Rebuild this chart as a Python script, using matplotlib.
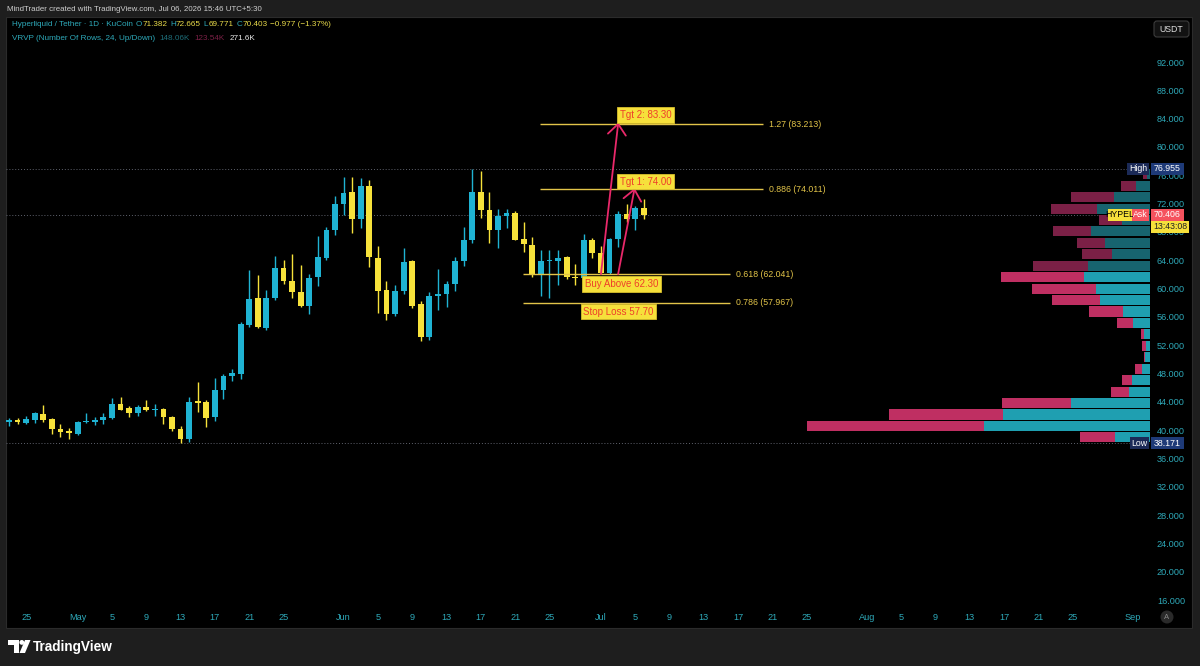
import numpy as np
import pandas as pd
import matplotlib
matplotlib.use('Agg')
import matplotlib.pyplot as plt
from matplotlib.patches import Rectangle, Circle, Polygon, FancyBboxPatch

plt.rcParams['font.family'] = ['Liberation Sans', 'DejaVu Sans']

# ---- daily candles, HYPE/USDT (KuCoin), from 23 Apr 2026 ----
start_date = '2026-04-23'
opens = [41.1, 41.4, 41.0, 41.4, 42.3, 41.6, 40.1, 39.95, 39.5, 41.1,
         41.2, 41.4, 41.7, 43.7, 43.1, 42.4, 43.2, 42.9, 42.95, 41.9,
         40.2, 38.7, 44.1, 44.0, 41.8, 45.7, 47.7, 47.9, 54.9, 58.6,
         54.4, 58.6, 62.9, 61.1, 59.55, 57.6, 61.6, 64.35, 68.3, 72.0,
         73.6, 69.8, 74.5, 64.35, 59.8, 56.4, 59.7, 63.9, 57.8, 53.1,
         58.9, 59.2, 60.6, 63.9, 66.8, 73.6, 71.1, 68.3, 70.25, 70.7,
         66.95, 66.2, 62.05, 63.9, 63.85, 64.4, 61.7, 61.45, 66.85, 65.0,
         62.25, 66.95, 70.6, 69.8, 71.382]
highs = [41.7, 41.7, 42.0, 42.6, 43.5, 41.7, 40.8, 40.3, 41.3, 42.4,
         41.8, 42.4, 44.5, 44.7, 43.4, 43.5, 44.3, 43.7, 43.1, 42.0,
         40.6, 44.7, 46.8, 44.3, 47.3, 48.0, 48.7, 55.3, 62.6, 61.9,
         59.8, 64.6, 64.0, 64.9, 63.3, 62.1, 67.4, 68.75, 73.1, 75.7,
         75.7, 75.6, 75.4, 66.0, 61.1, 60.5, 65.7, 64.0, 58.3, 59.5,
         62.7, 61.0, 64.4, 68.75, 76.955, 76.6, 73.7, 71.2, 71.3, 71.0,
         69.4, 67.3, 65.4, 65.4, 65.4, 64.6, 63.5, 67.7, 67.1, 66.0,
         67.2, 71.0, 72.0, 71.7, 72.665]
lows = [40.6, 40.8, 40.8, 41.0, 41.2, 39.5, 39.1, 38.8, 39.3, 40.95,
        40.7, 40.9, 41.6, 42.8, 41.8, 42.0, 42.7, 42.0, 40.8, 39.9,
        38.171, 38.3, 42.6, 40.4, 41.3, 44.4, 46.9, 47.2, 54.6, 54.4,
        54.2, 58.4, 60.7, 58.6, 57.4, 56.4, 60.4, 64.1, 67.6, 70.4,
        67.8, 68.5, 63.0, 56.6, 55.6, 56.1, 59.3, 57.3, 52.6, 52.8,
        56.9, 57.4, 59.7, 63.2, 66.4, 69.9, 66.5, 65.7, 68.5, 66.8,
        65.2, 61.7, 59.0, 58.6, 60.5, 61.4, 60.5, 61.2, 64.3, 62.0,
        62.0, 65.9, 69.4, 68.3, 69.771]
closes = [41.4, 41.1, 41.6, 42.4, 41.5, 40.1, 39.8, 39.65, 41.1, 41.2,
          41.5, 41.8, 43.7, 42.9, 42.4, 43.2, 42.8, 43.0, 41.85, 40.1,
          38.7, 44.0, 43.9, 41.7, 45.7, 47.7, 48.1, 55.0, 58.5, 54.5,
          58.7, 62.9, 61.0, 59.5, 57.6, 61.45, 64.4, 68.3, 72.0, 73.5,
          69.8, 74.5, 64.4, 59.7, 56.4, 59.7, 63.8, 57.6, 53.2, 58.95,
          59.2, 60.6, 63.9, 66.85, 73.6, 71.1, 68.2, 70.25, 70.7, 66.85,
          66.3, 61.9, 63.9, 64.0, 64.3, 61.6, 61.45, 66.85, 65.0, 62.2,
          66.95, 70.6, 69.8, 71.35, 70.403]
last_price = 70.406

# ---- visible range volume profile, 24 rows, in K ----
profile_low = 38.171
profile_high = 76.955
vol_up = [5.0, 23.5, 20.9, 11.2, 3.0, 2.6, 1.1, 0.7, 0.6, 0.9, 2.4, 3.8,
          7.1, 7.7, 9.4, 8.8, 5.4, 6.4, 8.4, 4.0, 7.5, 5.1, 2.0, 0.4]
vol_down = [5.0, 25.2, 16.2, 9.8, 2.6, 1.4, 1.0, 0.15, 0.6, 0.4, 2.3, 4.8,
            6.8, 9.1, 11.7, 7.8, 4.3, 4.0, 5.3, 3.3, 6.6, 6.1, 2.1, 0.6]
value_area_high = 62.41

# ---- fib extension levels ----
fib_ratios = ['1.27', '0.886', '0.618', '0.786']
fib_prices = [83.213, 74.011, 62.041, 57.967]
fib_from = [61.9, 61.9, 59.9, 59.9]
fib_to = [87.9, 87.9, 84.0, 84.0]

UP = '#1fb3d3'
DOWN = '#f7e23b'
TEAL_TXT = '#2ea9b9'
FIB = '#e2c449'
ARROW = '#e9286a'
VAL = '#e8da4a'

W, H = 1200, 666
fig = plt.figure(figsize=(W / 100, H / 100), dpi=100, facecolor='#1e1e1e')

# background layer in pixel coords
bg = fig.add_axes([0, 0, 1, 1], zorder=0)
bg.set_xlim(0, W)
bg.set_ylim(H, 0)
bg.axis('off')
bg.add_patch(Rectangle((6, 17), 1186, 611, fc='#000000', ec='#2b2b2b', lw=0.8))

ax = fig.add_axes([6 / W, 1 - 607 / H, 1144 / W, 585 / H], zorder=1)
ax.set_facecolor('none')
ax.set_xlim(-0.35, 133.0)
ax.set_ylim(15.02, 97.65)
for s in ax.spines.values():
    s.set_visible(False)

# candles
n = len(opens)
for i in range(n):
    o, h, l, c = opens[i], highs[i], lows[i], closes[i]
    col = UP if c >= o else DOWN
    ax.vlines(i, l, h, color=col, lw=1.0, zorder=3)
    ax.bar(i, max(abs(c - o), 0.15), bottom=min(o, c), width=0.68,
           color=col, zorder=3, linewidth=0)

# dotted reference lines
for p in (profile_high, profile_low, last_price):
    ax.axhline(p, color='#5f626d', ls=(0, (1, 2)), lw=0.7, zorder=1)

# volume profile
rows = len(vol_up)
row_h = (profile_high - profile_low) / rows
x0, x1 = ax.get_xlim()
totals = np.array(vol_up) + np.array(vol_down)
scale = 0.30 * (x1 - x0) / totals.max()
for k in range(rows):
    bot = profile_low + k * row_h
    in_va = bot + row_h / 2 < value_area_high
    cu = '#1f9fb1' if in_va else '#17646f'
    cd = '#bf2f62' if in_va else '#7b2046'
    wu = vol_up[k] * scale
    wd = vol_down[k] * scale
    ax.barh(bot + 0.06 * row_h, wu, left=x1 - wu, height=row_h * 0.88,
            align='edge', color=cu, linewidth=0, zorder=2)
    ax.barh(bot + 0.06 * row_h, wd, left=x1 - wu - wd, height=row_h * 0.88,
            align='edge', color=cd, linewidth=0, zorder=2)

# fib lines
for r, p, a, b in zip(fib_ratios, fib_prices, fib_from, fib_to):
    ax.hlines(p, a, b, color=FIB, lw=1.0, zorder=4)
    ax.text(b + 0.7, p, f'{r} ({p:.3f})', color=FIB, fontsize=6.3,
            va='center', ha='left', zorder=4)

# trade labels
def tag(x, y, s):
    ax.text(x, y, s, ha='center', va='center', fontsize=7, color='#ee3f2a',
            zorder=8, bbox=dict(boxstyle='square,pad=0.28', fc='#f6e03b',
                                ec='#d8bf2c', lw=0.6))

tag(74.2, 84.5, 'Tgt 2: 83.30')
tag(74.2, 75.1, 'Tgt 1: 74.00')
tag(71.4, 60.62, 'Buy Above 62.30')
tag(71.05, 56.75, 'Stop Loss 57.70')

# arrows with open chevron heads
def arrow(xa, ya, xb, yb):
    ax.plot([xa, xb], [ya, yb], color=ARROW, lw=1.3, zorder=7,
            solid_capstyle='round')
    pa = ax.transData.transform((xa, ya))
    pb = ax.transData.transform((xb, yb))
    u = (pb - pa) / np.hypot(*(pb - pa))
    for ang in (np.radians(40), -np.radians(40)):
        rot = np.array([[np.cos(ang), -np.sin(ang)], [np.sin(ang), np.cos(ang)]])
        w = pb - 14 * rot @ u
        wd = ax.transData.inverted().transform(w)
        ax.plot([xb, wd[0]], [yb, wd[1]], color=ARROW, lw=1.3, zorder=7,
                solid_capstyle='round')

arrow(69.0, 62.04, 71.0, 83.25)
arrow(71.0, 62.04, 72.9, 74.0)

# axes ticks
ax.yaxis.tick_right()
yt = np.arange(16, 93, 4)
ax.set_yticks(yt)
ax.set_yticklabels([f'{v:.3f}' for v in yt])
ax.tick_params(axis='y', length=0, pad=5, labelsize=6.6, labelcolor=TEAL_TXT)

dates = pd.date_range(start_date, periods=134)
xt, xl = [], []
for k, d in enumerate(dates):
    if d.day == 1:
        xt.append(k)
        xl.append(d.strftime('%b'))
    elif d.day in (5, 9, 13, 17, 21, 25):
        xt.append(k)
        xl.append(str(d.day))
ax.set_xticks(xt)
ax.set_xticklabels(xl)
ax.tick_params(axis='x', length=0, pad=4, labelsize=6.6, labelcolor=TEAL_TXT)

# overlay for price-scale labels (pixel coords)
top = fig.add_axes([0, 0, 1, 1], zorder=5)
top.set_xlim(0, W)
top.set_ylim(H, 0)
top.axis('off')

def py(p):
    return H - ax.transData.transform((0, p))[1]

def box(xa, xb, yc, s, fc, tc, hgt=12):
    top.add_patch(Rectangle((xa, yc - hgt / 2), xb - xa, hgt, fc=fc, ec='none'))
    top.text((xa + xb) / 2, yc, s, ha='center', va='center', fontsize=6.3,
             color=tc)

box(1127, 1149, py(profile_high), 'High', '#1b2a57', 'white')
box(1151, 1184, py(profile_high), f'{profile_high:.3f}', '#1e3a78', 'white')
box(1130, 1149, py(profile_low), 'Low', '#1b2a57', 'white')
box(1151, 1184, py(profile_low), f'{profile_low:.3f}', '#1e3a78', 'white')
yl = py(last_price)
box(1108, 1132, yl, 'HYPEL', '#f6e03b', 'black')
box(1132, 1149, yl, 'Ask', '#f5525e', 'white')
box(1151, 1184, yl, f'{last_price:.3f}', '#f5525e', 'white')
box(1151, 1189, yl + 12, '13:43:08', '#f6e03b', '#222222')

# USDT button, auto-scale button
bg.add_patch(FancyBboxPatch((1154, 21), 35, 16, boxstyle='round,pad=0,rounding_size=3',
                            fc='#121212', ec='#3c3c3c', lw=0.8))
bg.text(1171.5, 29, 'USDT', ha='center', va='center', fontsize=6.3, color='#e0e0e0')
bg.add_patch(Circle((1167, 617), 6.5, fc='#2a2a2a', ec='none'))
bg.text(1167, 617.5, 'A', ha='center', va='center', fontsize=5.5, color='#8a8a8a')

# header, drawn piece by piece
renderer = fig.canvas.get_renderer()

def line(x, y, parts, size=5.9):
    for s, col, gap in parts:
        t = bg.text(x, y, s, fontsize=size, color=col, va='center')
        x += t.get_window_extent(renderer=renderer).width + gap

line(7, 9.5, [('MindTrader created with TradingView.com, Jul 06, 2026 15:46 UTC+5:30',
               '#cfcfcf', 0)], size=5.7)
line(12, 24, [('Hyperliquid / Tether \u00b7 1D \u00b7 KuCoin', TEAL_TXT, 3),
              ('O', TEAL_TXT, 0), (f'{opens[-1]:.3f}', VAL, 3),
              ('H', TEAL_TXT, 0), (f'{highs[-1]:.3f}', VAL, 3),
              ('L', TEAL_TXT, 0), (f'{lows[-1]:.3f}', VAL, 3),
              ('C', TEAL_TXT, 0), (f'{closes[-1]:.3f}', VAL, 3),
              ('\u22120.977 (\u22121.37%)', VAL, 0)])
line(12, 39, [('VRVP (Number Of Rows, 24, Up/Down)', TEAL_TXT, 4),
              ('148.06K', '#1d6d78', 5), ('123.54K', '#7b2046', 5),
              ('271.6K', '#e6e6e6', 0)])

# footer logo
bg.add_patch(Polygon([(8, 640), (18.5, 640), (18.5, 653), (13.5, 653),
                      (13.5, 644.5), (8, 644.5)], closed=True, fc='white', ec='none'))
bg.add_patch(Circle((21.8, 642.4), 2.4, fc='white', ec='none'))
bg.add_patch(Polygon([(25, 640), (30.5, 640), (25, 653), (19.5, 653)],
                     closed=True, fc='white', ec='none'))
bg.text(33, 647, 'TradingView', fontsize=9.8, color='white', va='center',
        fontweight='bold')

fig.savefig('out.png', dpi=100, facecolor=fig.get_facecolor())
